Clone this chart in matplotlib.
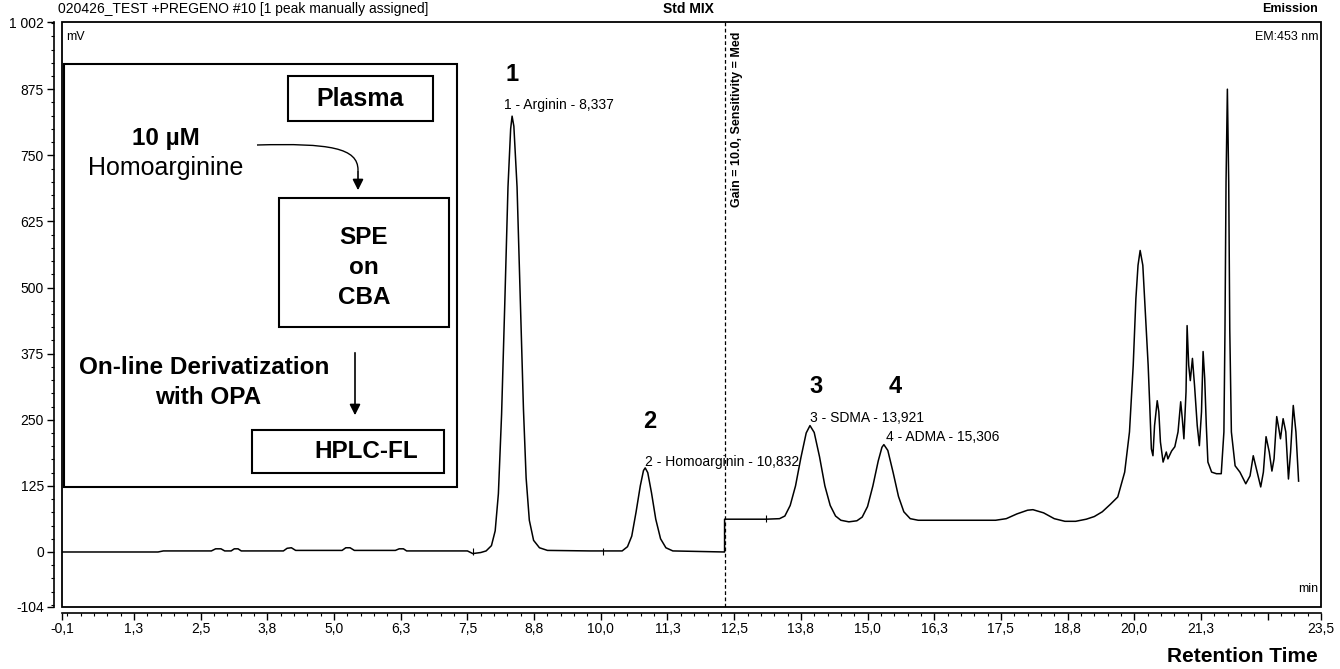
import matplotlib
matplotlib.use("Agg")
import matplotlib.pyplot as plt
from matplotlib.patches import Rectangle, PathPatch
from matplotlib.path import Path

plt.rcParams['font.family'] = ['Liberation Sans', 'DejaVu Sans']

# chromatogram trace (time in min, signal in mV)
trace_t = [-0.1, 1.7, 1.8, 2.7, 2.78, 2.88, 2.95, 3.07, 3.13, 3.2, 3.26, 4.05, 4.12, 4.2, 4.28,
           5.15, 5.22, 5.3, 5.38, 6.15, 6.22, 6.3, 6.36, 7.5, 7.6, 7.75, 7.85,
           # peak 1
           7.95, 8.02, 8.08, 8.14, 8.2, 8.26, 8.31, 8.337, 8.37, 8.43, 8.49, 8.55, 8.6, 8.66, 8.74, 8.85, 9.0, 9.8,
           # peak 2
           10.4, 10.5, 10.58, 10.66, 10.74, 10.8, 10.832, 10.88, 10.95, 11.03, 11.12, 11.22, 11.35, 12.32,
           # gain step
           12.32, 13.1, 13.35,
           # peak 3
           13.45, 13.55, 13.65, 13.75, 13.85, 13.921, 14.0, 14.1, 14.2, 14.3, 14.4, 14.5, 14.65, 14.8,
           # peak 4
           14.9, 15.0, 15.1, 15.2, 15.27, 15.306, 15.38, 15.48, 15.58, 15.68, 15.8, 15.95, 17.4,
           # bump + rise
           17.6, 17.8, 18.0, 18.1, 18.3, 18.5, 18.7, 18.9, 19.1, 19.25, 19.4, 19.55, 19.69,
           # late eluting cluster
           19.82, 19.91, 19.98, 20.03, 20.07, 20.11, 20.16, 20.21, 20.26, 20.29, 20.32, 20.35, 20.38,
           20.43, 20.46, 20.49, 20.54, 20.6, 20.63, 20.7, 20.76, 20.82, 20.87, 20.9, 20.93, 20.97,
           20.99, 21.02, 21.05, 21.09, 21.13, 21.18, 21.22, 21.26, 21.29, 21.32, 21.35, 21.38, 21.45,
           21.54, 21.63, 21.68, 21.7, 21.72, 21.745, 21.77, 21.79, 21.82, 21.89, 21.98, 22.09, 22.17,
           22.23, 22.29, 22.37, 22.42, 22.47, 22.53, 22.58, 22.62, 22.67, 22.71, 22.74, 22.79, 22.84,
           22.89, 22.93, 22.98, 23.03, 23.08]
trace_mv = [0, 0, 2, 2, 6, 6, 2, 2, 6, 6, 2, 2, 7, 8, 3,
            3, 8, 8, 3, 3, 6, 6, 2, 2, -3, -1, 2,
            12, 40, 110, 260, 470, 690, 800, 824, 805, 690, 480, 270, 140, 60, 22, 8, 3, 2,
            2, 10, 30, 75, 125, 154, 159, 150, 112, 62, 25, 8, 2, 0,
            62, 62, 63,
            68, 88, 125, 178, 225, 239, 226, 180, 125, 88, 68, 60, 57, 59,
            66, 86, 125, 172, 198, 203, 192, 150, 105, 76, 63, 60, 60,
            63, 72, 79, 80, 74, 63, 58, 58, 62, 67, 76, 90, 104,
            151, 227, 353, 479, 542, 570, 542, 447, 353, 277, 195, 182, 239,
            286, 265, 208, 170, 189, 176, 191, 199, 227, 284, 252, 214, 303,
            428, 353, 324, 366, 314, 239, 201, 265, 379, 328, 239, 170, 151,
            148, 148, 227, 420, 700, 875, 700, 420, 227, 163, 151, 129, 144,
            182, 157, 123, 151, 218, 189, 153, 176, 256, 233, 214, 252, 227,
            138, 189, 277, 227, 134]

# integration start/end ticks on the baseline
marker_t = [7.6, 10.05, 13.1]
marker_base = [0, 0, 62]
gain_change_t = 12.32

peak_ids = ["1", "2", "3", "4"]
peak_id_pos = [(8.34, 902), (10.91, 246), (14.04, 312), (15.52, 312)]
peak_names = ["1 - Arginin - 8,337", "2 - Homoarginin - 10,832", "3 - SDMA - 13,921", "4 - ADMA - 15,306"]
peak_name_pos = [(8.19, 845), (10.82, 170), (13.92, 253), (15.35, 217)]

xtick_pos = [-0.1, 1.25, 2.5, 3.75, 5.0, 6.25, 7.5, 8.75, 10.0, 11.25, 12.5, 13.75, 15.0,
             16.25, 17.5, 18.75, 20.0, 21.25, 22.5, 23.5]
xtick_lab = ["-0,1", "1,3", "2,5", "3,8", "5,0", "6,3", "7,5", "8,8", "10,0", "11,3", "12,5",
             "13,8", "15,0", "16,3", "17,5", "18,8", "20,0", "21,3", "", "23,5"]
ytick_pos = [-104, 0, 125, 250, 375, 500, 625, 750, 875, 1002]
ytick_lab = ["-104", "0", "125", "250", "375", "500", "625", "750", "875", "1 002"]

W, H = 1340, 669
fig = plt.figure(figsize=(W / 100, H / 100), dpi=100)
ax = fig.add_axes([62 / W, 1 - 607 / H, (1321 - 62) / W, (607 - 22) / H])

ax.plot(trace_t, trace_mv, color='black', lw=1.1)
for t, b in zip(marker_t, marker_base):
    ax.vlines(t, b - 6, b + 8, color='black', lw=0.8)
ax.axvline(gain_change_t, color='black', lw=0.9, ls=(0, (3, 2)))
ax.text(gain_change_t + 0.12, 653, "Gain = 10.0, Sensitivity = Med", rotation=90,
        ha='left', va='bottom', fontsize=9, fontweight='bold')

for pid, (x, y) in zip(peak_ids, peak_id_pos):
    ax.text(x, y, pid, fontsize=17, fontweight='bold', ha='center', va='center')
for name, (x, y) in zip(peak_names, peak_name_pos):
    ax.text(x, y, name, fontsize=10, ha='left', va='center')

ax.set_xlim(-0.1, 23.5)
ax.set_ylim(-104, 1002)
ax.set_xticks(xtick_pos)
ax.set_xticklabels(xtick_lab, fontsize=9.5, fontweight='bold')
ax.set_yticks(ytick_pos)
ax.set_yticklabels(ytick_lab, fontsize=8.5)
ax.set_xticks([x * 0.25 for x in range(0, 94)], minor=True)
ax.set_yticks(list(range(-100, 1001, 25)), minor=True)
ax.tick_params(axis='both', which='major', length=5, width=1, pad=2)
ax.tick_params(axis='both', which='minor', length=2.5, width=0.8)
for side in ['top', 'right']:
    ax.spines[side].set_visible(False)
ax.spines['left'].set_position(('outward', 6))
ax.spines['bottom'].set_position(('outward', 4))
ax.spines['left'].set_linewidth(1.2)
ax.spines['bottom'].set_linewidth(1.2)
ax.add_patch(Rectangle((0, 0), 1, 1, transform=ax.transAxes, fill=False, lw=1.3,
                       edgecolor='black', clip_on=False))
ax.text(0.003, 0.985, "mV", transform=ax.transAxes, fontsize=9, va='top', ha='left')
ax.text(0.998, 0.985, "EM:453 nm", transform=ax.transAxes, fontsize=9, va='top', ha='right')
ax.text(0.998, 0.02, "min", transform=ax.transAxes, fontsize=9, va='bottom', ha='right')

# overlay in pixel coordinates for header texts and the flow chart
ov = fig.add_axes([0, 0, 1, 1], zorder=5)
ov.set_xlim(0, W)
ov.set_ylim(H, 0)
ov.axis('off')
ov.patch.set_alpha(0)

ov.text(58, 9, "020426_TEST +PREGENO #10 [1 peak manually assigned]", fontsize=10, va='center')
ov.text(688, 9, "Std MIX", fontsize=10, fontweight='bold', va='center', ha='center')
ov.text(1318, 9, "Emission", fontsize=9, fontweight='bold', va='center', ha='right')
ov.text(1318, 657, "Retention Time", fontsize=15, fontweight='bold', va='center', ha='right')

# flow chart
ov.add_patch(Rectangle((64, 64), 393, 423, fill=True, facecolor='white', edgecolor='black', lw=1.5))
ov.add_patch(Rectangle((288, 76), 145, 45, fill=False, edgecolor='black', lw=1.5))
ov.add_patch(Rectangle((279, 198), 170, 129, fill=False, edgecolor='black', lw=1.5))
ov.add_patch(Rectangle((252, 430), 192, 43, fill=False, edgecolor='black', lw=1.5))
ov.text(360, 99, "Plasma", fontsize=18, fontweight='bold', ha='center', va='center')
ov.text(166, 138, "10 \u00b5M", fontsize=17.5, fontweight='bold', ha='center', va='center')
ov.text(166, 168, "Homoarginine", fontsize=18, ha='center', va='center')
ov.text(364, 237, "SPE", fontsize=17.5, fontweight='bold', ha='center', va='center')
ov.text(364, 267, "on", fontsize=17.5, fontweight='bold', ha='center', va='center')
ov.text(364, 297, "CBA", fontsize=17.5, fontweight='bold', ha='center', va='center')
ov.text(204, 367, "On-line Derivatization", fontsize=17.5, fontweight='bold', ha='center', va='center')
ov.text(208, 397, "with OPA", fontsize=17.5, fontweight='bold', ha='center', va='center')
ov.text(366, 452, "HPLC-FL", fontsize=17.5, fontweight='bold', ha='center', va='center')

curve = Path([(257, 145), (330, 143), (358, 148), (358, 170)],
             [Path.MOVETO, Path.CURVE4, Path.CURVE4, Path.CURVE4])
ov.add_patch(PathPatch(curve, fill=False, lw=1.0, edgecolor='black'))
ov.annotate("", xy=(358, 193), xytext=(358, 168),
            arrowprops=dict(arrowstyle='-|>', color='black', lw=1.2, mutation_scale=16))
ov.annotate("", xy=(355, 418), xytext=(355, 350),
            arrowprops=dict(arrowstyle='-|>', color='black', lw=1.2, mutation_scale=16))

fig.savefig("out.png", dpi=100)
